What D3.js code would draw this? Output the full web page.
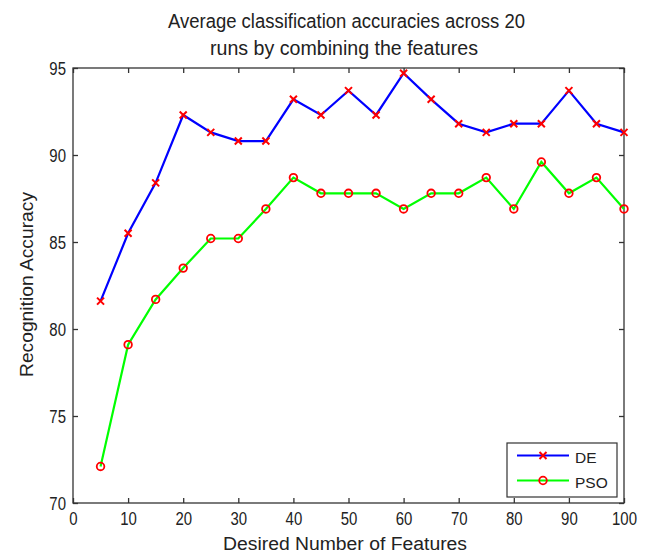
<!DOCTYPE html>
<html><head><meta charset="utf-8">
<script src="https://cdn.jsdelivr.net/npm/d3@7"></script>
<style>body{margin:0;background:#fff}svg{display:block}text{font-family:"Liberation Sans",Arial,sans-serif;fill:#222}</style>
</head><body><svg id="c" width="647" height="553"></svg>
<script>
const features = [5,10,15,20,25,30,35,40,45,50,55,60,65,70,75,80,85,90,95,100];
const deValues = [81.6,85.5,88.4,92.3,91.3,90.8,90.8,93.2,92.3,93.7,92.3,94.7,93.2,91.8,91.3,91.8,91.8,93.7,91.8,91.3];
const psoValues = [72.1,79.1,81.7,83.5,85.2,85.2,86.9,88.7,87.8,87.8,87.8,86.9,87.8,87.8,88.7,86.9,89.6,87.8,88.7,86.9];
const xTicks = [0,10,20,30,40,50,60,70,80,90,100];
const yTicks = [70,75,80,85,90,95];
const titleLines = ["Average classification accuracies across 20","runs by combining the features"];
const seriesNames = ["DE","PSO"];

const svg = d3.select("#c");
const L=73, R=624, T=68, B=503;
const x = d3.scaleLinear().domain([0,100]).range([L,R]);
const y = d3.scaleLinear().domain([70,95]).range([B,T]);
const ax = "#333";

function squeeze(sel,k){
  sel.each(function(){
    const len=this.getComputedTextLength();
    this.setAttribute("textLength",len*k);
    this.setAttribute("lengthAdjust","spacingAndGlyphs");
  });
}
function fitTo(sel,w){
  sel.attr("textLength",w).attr("lengthAdjust","spacingAndGlyphs");
}

// box
svg.append("rect").attr("x",L).attr("y",T).attr("width",R-L).attr("height",B-T)
  .attr("fill","none").attr("stroke",ax).attr("stroke-width",1.3);

// axes
const gx = svg.append("g").attr("transform",`translate(0,${B})`)
  .call(d3.axisBottom(x).tickValues(xTicks).tickSizeInner(-5).tickSizeOuter(0));
const gxt = svg.append("g").attr("transform",`translate(0,${T})`)
  .call(d3.axisTop(x).tickValues(xTicks).tickSizeInner(-5).tickSizeOuter(0).tickFormat(""));
const gy = svg.append("g").attr("transform",`translate(${L},0)`)
  .call(d3.axisLeft(y).tickValues(yTicks).tickSizeInner(-5).tickSizeOuter(0));
const gyr = svg.append("g").attr("transform",`translate(${R},0)`)
  .call(d3.axisRight(y).tickValues(yTicks).tickSizeInner(-5).tickSizeOuter(0).tickFormat(""));
[gx,gxt,gy,gyr].forEach(g=>{
  g.select(".domain").remove();
  g.selectAll(".tick line").attr("stroke",ax).attr("stroke-width",1.3);
  g.selectAll("text").attr("font-size",18).attr("fill","#222").attr("font-family",'"Liberation Sans",Arial,sans-serif');
});
gx.selectAll(".tick text").attr("y",22).attr("dy",0);
gy.selectAll(".tick text").attr("x",-7).attr("dy","0.36em");
squeeze(gx.selectAll(".tick text"),0.83);
squeeze(gy.selectAll(".tick text"),0.83);

// lines
const line = d3.line().x((d,i)=>x(features[i])).y(d=>y(d));
svg.append("path").datum(deValues).attr("d",line).attr("fill","none").attr("stroke","#0000ff").attr("stroke-width",2.2);
svg.append("path").datum(psoValues).attr("d",line).attr("fill","none").attr("stroke","#00ff00").attr("stroke-width",2.2);

function cross(g,cx,cy){
  const s=3.5;
  g.append("path").attr("d",`M${cx-s},${cy-s}L${cx+s},${cy+s}M${cx-s},${cy+s}L${cx+s},${cy-s}`)
   .attr("stroke","#ff0000").attr("stroke-width",2).attr("fill","none");
}
function circ(g,cx,cy){
  g.append("circle").attr("cx",cx).attr("cy",cy).attr("r",3.8).attr("fill","none").attr("stroke","#ff0000").attr("stroke-width",1.8);
}
const mk = svg.append("g");
deValues.forEach((d,i)=>cross(mk,x(features[i]),y(d)));
psoValues.forEach((d,i)=>circ(mk,x(features[i]),y(d)));

// title
const t1 = svg.append("text").attr("x",346.5).attr("y",28).attr("text-anchor","middle").attr("font-size",20).text(titleLines[0]);
const t2 = svg.append("text").attr("x",344).attr("y",55).attr("text-anchor","middle").attr("font-size",20).text(titleLines[1]);
fitTo(t1,357); fitTo(t2,268);

// axis labels
const xl = svg.append("text").attr("x",345).attr("y",549.5).attr("text-anchor","middle").attr("font-size",18).text("Desired Number of Features");
fitTo(xl,244);
const yl = svg.append("text").attr("transform",`translate(33,284.5) rotate(-90)`).attr("text-anchor","middle").attr("font-size",18).text("Recognition Accuracy");
fitTo(yl,185);

// legend
const lg = svg.append("g");
lg.append("rect").attr("x",507).attr("y",443).attr("width",110).attr("height",54).attr("fill","#fff").attr("stroke",ax).attr("stroke-width",1.2);
const ly=[455.5,480.5], cols=["#0000ff","#00ff00"];
seriesNames.forEach((n,i)=>{
  lg.append("line").attr("x1",517).attr("x2",569).attr("y1",ly[i]).attr("y2",ly[i]).attr("stroke",cols[i]).attr("stroke-width",2.2);
  if(i===0) cross(lg,543,ly[i]); else circ(lg,543,ly[i]);
  lg.append("text").attr("x",575).attr("y",ly[i]+7.5).attr("font-size",15.5).text(n);
});
</script></body></html>
